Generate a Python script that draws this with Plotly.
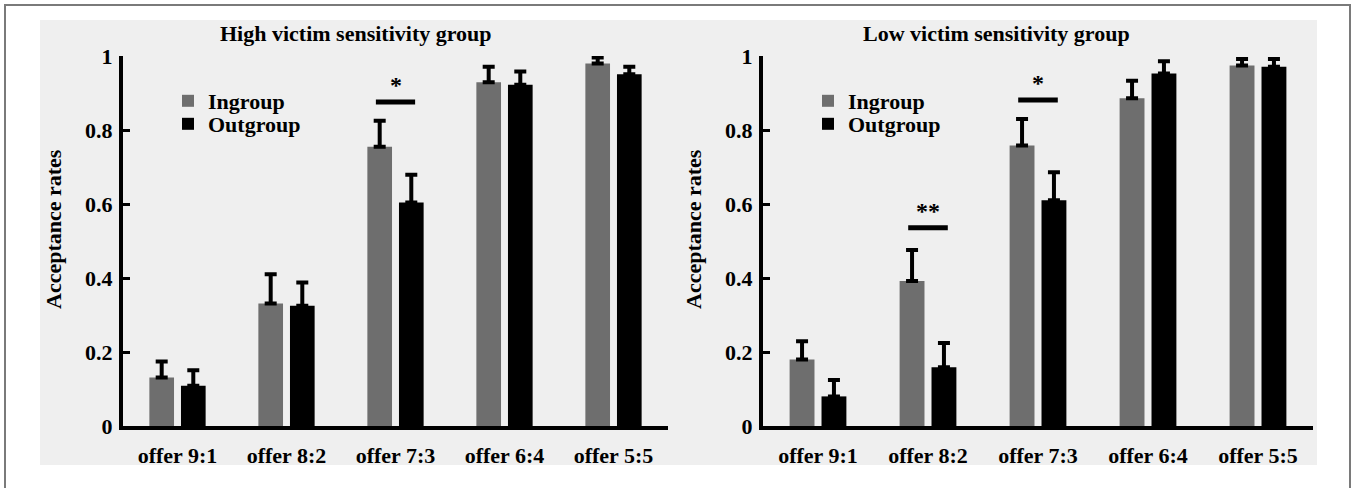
import plotly.graph_objects as go

# ---------------- data ----------------
categories = ["offer 9:1", "offer 8:2", "offer 7:3", "offer 6:4", "offer 5:5"]

high_in = [0.131, 0.331, 0.755, 0.929, 0.980]
high_in_err = [0.043, 0.079, 0.070, 0.042, 0.016]
high_out = [0.109, 0.325, 0.604, 0.922, 0.951]
high_out_err = [0.042, 0.063, 0.075, 0.036, 0.020]

low_in = [0.180, 0.392, 0.758, 0.886, 0.974]
low_in_err = [0.049, 0.084, 0.072, 0.047, 0.018]
low_out = [0.080, 0.159, 0.610, 0.953, 0.971]
low_out_err = [0.044, 0.065, 0.076, 0.033, 0.021]

y_ticks = [0, 0.2, 0.4, 0.6, 0.8, 1]
y_ticktext = ["0", "0.2", "0.4", "0.6", "0.8", "1"]

panel_titles = ["High victim sensitivity group", "Low victim sensitivity group"]
series_names = ["Ingroup", "Outgroup"]

# significance marks: (category index, bar-line height, label)
sig_high = [(2, 0.876, "*")]
sig_low = [(1, 0.536, "**"), (2, 0.881, "*")]

# ---------------- style ----------------
W, H = 1354, 488
FONT = "Liberation Serif"
IN_COLOR = "#6e6e6e"
OUT_COLOR = "#000000"

def px(x):
    return x / W

def py(y):
    return 1 - y / H

fig = go.Figure()

legend_names = ["legend", "legend2", "legend3", "legend4"]
panels = [
    (high_in, high_in_err, high_out, high_out_err, "x", "y"),
    (low_in, low_in_err, low_out, low_out_err, "x2", "y2"),
]
k = 0
for vin, ein, vout, eout, xa, ya in panels:
    for vals, errs, name, col in [(vin, ein, series_names[0], IN_COLOR),
                                  (vout, eout, series_names[1], OUT_COLOR)]:
        fig.add_trace(go.Bar(
            x=categories, y=vals, name=name, marker=dict(color=col, line=dict(width=0)),
            error_y=dict(type="data", array=errs, arrayminus=[0] * len(errs),
                         symmetric=False, color="black", thickness=4, width=6),
            xaxis=xa, yaxis=ya, legend=legend_names[k], showlegend=True,
        ))
        k += 1

tickfont = dict(family=FONT, size=22, color="black", weight=700)
xdom1 = [px(123), px(668)]
xdom2 = [px(763), px(1313)]
ydom = [py(426), py(56)]

common_x = dict(type="category", range=[-0.5, 4.5], showline=True, linewidth=4,
                linecolor="black", ticks="", tickfont=tickfont, showgrid=False,
                zeroline=False, ticklabelstandoff=7, fixedrange=True, automargin=False)
common_y = dict(range=[0, 1], tickvals=y_ticks, ticktext=y_ticktext, showline=True,
                linewidth=4, linecolor="black", ticks="inside", ticklen=7, tickwidth=3,
                tickcolor="black", tickfont=tickfont, showgrid=False, zeroline=False,
                ticklabelstandoff=2, fixedrange=True, automargin=False)

legfont = dict(family=FONT, size=22, color="black", weight=700)
def leg(x, y):
    return dict(x=px(x), y=py(y), xanchor="left", yanchor="middle",
                bgcolor="rgba(0,0,0,0)", font=legfont, borderwidth=0,
                itemclick=False, itemdoubleclick=False)

fig.update_layout(
    template="none",
    width=W, height=H, margin=dict(l=0, r=0, t=0, b=0, pad=0, autoexpand=False),
    paper_bgcolor="white", plot_bgcolor="rgba(0,0,0,0)",
    barmode="group", bargap=0.42, bargroupgap=0.22,
    xaxis=dict(domain=xdom1, anchor="y", **common_x),
    yaxis=dict(domain=ydom, anchor="x", **common_y),
    xaxis2=dict(domain=xdom2, anchor="y2", **common_x),
    yaxis2=dict(domain=ydom, anchor="x2", **common_y),
    legend=leg(168, 101),
    legend2=leg(168, 124),
    legend3=leg(808, 101),
    legend4=leg(808, 124),
    font=dict(family=FONT, color="black"),
)

shapes = [
    # light gray figure background
    dict(type="rect", xref="paper", yref="paper", x0=px(40), x1=px(1317), y0=py(465), y1=py(20),
         fillcolor="#efefef", line=dict(width=0), layer="below"),
    # outer frame
    dict(type="rect", xref="paper", yref="paper", x0=px(5), x1=px(1350), y0=py(500), y1=py(5),
         fillcolor="rgba(0,0,0,0)", line=dict(color="#7a7a7a", width=2), layer="below"),
]
annotations = []

title_pos = [356, 996]
for t, xc in zip(panel_titles, title_pos):
    annotations.append(dict(text=t, xref="paper", yref="paper", x=px(xc), y=py(33),
                            xanchor="center", yanchor="middle", showarrow=False,
                            font=dict(family=FONT, size=22, color="black", weight=700)))
for xc in [54, 694]:
    annotations.append(dict(text="Acceptance rates", xref="paper", yref="paper", x=px(xc), y=py(229),
                            xanchor="center", yanchor="middle", showarrow=False, textangle=-90,
                            font=dict(family=FONT, size=22, color="black", weight=700)))

for sigs, xa, ya in [(sig_high, "x", "y"), (sig_low, "x2", "y2")]:
    for idx, yv, lab in sigs:
        shapes.append(dict(type="line", xref=xa, yref=ya, x0=idx - 0.18, x1=idx + 0.18,
                           y0=yv, y1=yv, line=dict(color="black", width=5)))
        annotations.append(dict(text=lab, xref=xa, yref=ya, x=idx, y=yv, xanchor="center",
                                yanchor="middle", yshift=17, showarrow=False,
                                font=dict(family=FONT, size=24, color="black", weight=700)))

fig.update_layout(shapes=shapes, annotations=annotations)
fig.write_html("out.html", config={"displayModeBar": False},
               post_script="document.body.style.margin='0';document.body.style.overflow='hidden';")
